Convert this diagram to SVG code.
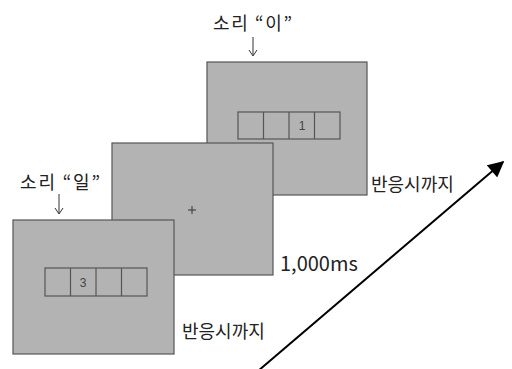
<svg xmlns="http://www.w3.org/2000/svg" width="512" height="369" viewBox="0 0 512 369">
<style>
.panel{fill:#b3b3b3;stroke:#555;stroke-width:1.2}
.cell{fill:none;stroke:#555;stroke-width:1.2}
.lbl{font-family:"Noto Sans CJK KR","Noto Sans",sans-serif;font-size:18px;fill:#222}
.num{font-family:"Liberation Sans",sans-serif;font-size:12px;fill:#444;text-anchor:middle}
.thin{stroke:#333;stroke-width:1;fill:none}
</style>
<defs>
<marker id="ah" viewBox="0 0 10 10" refX="9" refY="5" markerWidth="8.5" markerHeight="8" orient="auto" markerUnits="strokeWidth">
<path d="M0,0 L10,5 L0,10 z" fill="#000"/>
</marker>
</defs>
<rect width="512" height="369" fill="#fff"/>
<g id="panel3">
<rect class="panel" x="207" y="62" width="160" height="133"/>
<rect class="cell" x="238" y="112" width="102" height="27"/>
<line class="cell" x1="263.5" y1="112" x2="263.5" y2="139"/>
<line class="cell" x1="289" y1="112" x2="289" y2="139"/>
<line class="cell" x1="314.5" y1="112" x2="314.5" y2="139"/>
<text class="num" x="302" y="130">1</text>
</g>
<g id="panel2">
<rect class="panel" x="112" y="143" width="161" height="132"/>
<path class="thin" d="M188,210 h8 M192,206 v8"/>
</g>
<g id="panel1">
<rect class="panel" x="13" y="220" width="161" height="134"/>
<rect class="cell" x="45" y="268" width="102" height="28"/>
<line class="cell" x1="70.5" y1="268" x2="70.5" y2="296"/>
<line class="cell" x1="96" y1="268" x2="96" y2="296"/>
<line class="cell" x1="121.5" y1="268" x2="121.5" y2="296"/>
<text class="num" x="83" y="287">3</text>
</g>
<g id="labels">
<text class="lbl" x="213" y="30" textLength="79" lengthAdjust="spacing">소리 “이”</text>
<text class="lbl" x="20" y="189" textLength="80" lengthAdjust="spacing">소리 “일”</text>
<text class="lbl" x="371" y="191">반응시까지</text>
<text class="lbl" x="280" y="271" style="font-size:20px">1,000ms</text>
<text class="lbl" x="182" y="338">반응시까지</text>
</g>
<g id="connectors">
<path class="thin" d="M253,37 V55 M249,50 L253,56 L257,50"/>
<path class="thin" d="M59,194 V213 M55,208 L59,214 L63,208"/>
<line x1="258" y1="371" x2="503" y2="162" stroke="#000" stroke-width="2" marker-end="url(#ah)"/>
</g>
</svg>
